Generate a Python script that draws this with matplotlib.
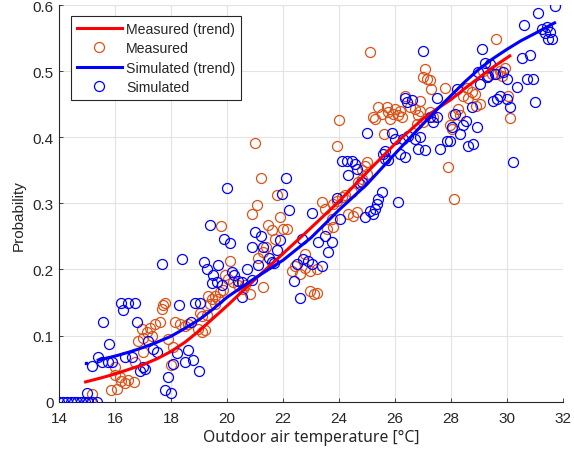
import numpy as np
import matplotlib
matplotlib.use("Agg")
import matplotlib.pyplot as plt

# trend curves
meas_trend_x = [14.95, 15.5, 16, 16.5, 17, 17.5, 18, 18.5, 19, 19.5, 20, 21, 22, 23,
                24, 25, 26, 27, 27.5, 28, 28.5, 29, 29.5, 30.1]
meas_trend_y = [0.030, 0.036, 0.042, 0.049, 0.056, 0.065, 0.076, 0.090, 0.107, 0.126,
                0.145, 0.185, 0.224, 0.263, 0.303, 0.347, 0.390, 0.428, 0.443, 0.457,
                0.474, 0.490, 0.506, 0.523]
sim_trend_x = [15.4, 16, 16.5, 17, 17.5, 18, 18.5, 19, 19.5, 20, 21, 22, 23, 24, 25,
               26, 27, 27.5, 28, 28.5, 29, 29.5, 30, 30.5, 31, 31.7]
sim_trend_y = [0.063, 0.069, 0.075, 0.082, 0.090, 0.099, 0.111, 0.124, 0.140, 0.158,
               0.187, 0.214, 0.248, 0.290, 0.329, 0.375, 0.420, 0.442, 0.463, 0.484,
               0.503, 0.519, 0.533, 0.546, 0.557, 0.573]

meas_x = [15.05, 15.15, 15.17, 15.85, 16.06, 16.0, 16.18, 16.2, 16.35, 16.45, 16.68,
          16.0, 16.71, 16.83, 16.98, 17.13, 17.25, 17.31, 17.43, 17.61, 17.01, 17.0,
          17.7, 17.8, 17.67, 17.9, 18.08, 18.0, 18.14, 18.32, 18.5, 18.62, 18.98, 19.1,
          19.2, 19.04, 19.1, 19.27, 19.33, 19.45, 19.57, 19.69, 19.39, 19.57, 19.75,
          19.87, 19.79, 19.93, 20.05, 20.22, 20.4, 20.58, 20.82, 20.1, 20.64, 20.9,
          21.08, 21.0, 21.2, 21.3, 21.12, 21.3, 21.4, 21.48, 21.6, 22.0, 22.13, 21.71,
          21.77, 21.89, 22.31, 22.43, 22.61, 22.79, 22.96, 22.79, 22.98, 23.1, 23.2,
          23.2, 23.38, 23.5, 23.8, 23.92, 24.1, 24.21, 23.56, 23.74, 23.8, 23.92, 24.0,
          24.33, 24.51, 24.63, 24.45, 24.69, 24.81, 24.81, 24.99, 24.93, 24.99, 25.11,
          25.23, 25.29, 25.4, 25.52, 25.7, 25.76, 25.82, 25.94, 26.0, 26.12, 26.18,
          26.24, 25.62, 26.36, 26.54, 26.71, 26.89, 26.89, 26.83, 26.77, 27.01, 27.01,
          27.07, 27.13, 27.25, 27.3, 27.25, 27.37, 27.79, 27.9, 27.96, 28.02, 28.08,
          28.1, 28.26, 28.32, 28.44, 28.56, 28.62, 28.74, 28.86, 28.9, 29.02, 29.15,
          29.27, 29.45, 29.6, 29.63, 29.75, 29.81, 29.93, 30.05, 30.1]
meas_y = [0.0, 0.0, 0.012, 0.017, 0.019, 0.04, 0.037, 0.032, 0.028, 0.033, 0.03,
          0.052, 0.06, 0.092, 0.11, 0.105, 0.112, 0.1, 0.117, 0.12, 0.097, 0.075,
          0.146, 0.149, 0.14, 0.095, 0.083, 0.055, 0.12, 0.117, 0.115, 0.118, 0.11, 0.105,
          0.108, 0.134, 0.13, 0.131, 0.16, 0.155, 0.16, 0.155, 0.148, 0.148, 0.166,
          0.169, 0.266, 0.191, 0.186, 0.181, 0.176, 0.171, 0.163, 0.213, 0.177, 0.284,
          0.298, 0.391, 0.339, 0.173, 0.217, 0.227, 0.234, 0.267, 0.26, 0.261, 0.261, 0.246,
          0.312, 0.279, 0.198, 0.206, 0.193, 0.203, 0.198, 0.224, 0.168, 0.163, 0.165,
          0.2, 0.302, 0.292, 0.299, 0.304, 0.309, 0.312, 0.261, 0.276, 0.264, 0.387, 0.426,
          0.284, 0.281, 0.287, 0.317, 0.332, 0.337, 0.35, 0.344, 0.357, 0.362, 0.529,
          0.43, 0.428, 0.446, 0.435, 0.445, 0.438, 0.428, 0.435, 0.443, 0.433, 0.44,
          0.43, 0.405, 0.463, 0.445, 0.443, 0.455, 0.44, 0.433, 0.42, 0.423, 0.491,
          0.503, 0.488, 0.486, 0.473, 0.438, 0.43, 0.474, 0.355, 0.418, 0.413, 0.433,
          0.306, 0.443, 0.433, 0.463, 0.474, 0.46, 0.468, 0.466, 0.447, 0.451, 0.5,
          0.491, 0.496, 0.548, 0.496, 0.5, 0.493, 0.504, 0.463, 0.429]

sim_x = [14.01, 14.15, 14.27, 14.42, 14.54, 14.65, 14.8, 14.93, 15.05, 15.19, 15.34,
         14.99, 15.19, 15.38, 15.52, 15.76, 15.9, 15.58, 15.79, 16.2, 16.47, 16.71, 16.3,
         16.36, 16.6, 16.77, 16.89, 17.01, 17.07, 17.19, 17.37, 17.49, 17.69, 17.79,
         17.99, 17.9, 18.08, 18.2, 18.29, 18.38, 18.5, 18.62, 18.8, 18.71, 18.86, 19.04,
         19.0, 19.18, 19.3, 19.69, 19.51, 19.63, 19.81, 19.45, 19.39, 19.9, 20.1, 19.99,
         20.17, 20.26, 20.38, 20.52, 20.7, 20.52, 20.88, 20.88, 21.0, 21.2, 21.09, 21.3,
         21.5, 21.6, 21.69, 21.8, 21.89, 21.98, 22.1, 22.2, 22.4, 22.61, 22.49, 22.72,
         22.9, 23.02, 22.67, 23.05, 23.26, 23.5, 23.74, 23.62, 23.4, 23.92, 24.04, 24.1,
         24.27, 24.45, 24.57, 24.63, 24.33, 24.81, 24.75, 24.93, 25.11, 25.23, 25.29,
         25.35, 25.4, 25.52, 24.99, 25.58, 25.64, 25.64, 25.76, 25.9, 26.0, 26.12, 26.18,
         26.36, 26.3, 26.48, 26.71, 26.89, 26.36, 26.6, 26.42, 26.83, 27.07, 27.01,
         27.25, 27.37, 27.49, 27.49, 27.6, 27.85, 27.96, 28.02, 28.44, 28.54, 28.92,
         28.14, 28.32, 28.2, 28.62, 28.8, 28.74, 28.98, 29.04, 29.12, 29.21, 29.39,
         29.27, 29.33, 29.57, 29.87, 29.99, 29.51, 29.63, 29.75, 29.99, 30.11, 30.23,
         30.35, 30.52, 30.82, 30.61, 30.7, 30.94, 31.0, 31.12, 31.24, 31.42, 31.36,
         31.54, 31.48, 31.6, 31.71]
sim_y = [0.0, 0.0, 0.0, 0.0, 0.0, 0.0, 0.0, 0.0, 0.0, 0.0, 0.0,
         0.013, 0.054, 0.067, 0.06, 0.06, 0.06, 0.12, 0.087, 0.15, 0.15, 0.15, 0.138,
         0.067, 0.067, 0.12, 0.047, 0.052, 0.049, 0.092, 0.08, 0.075, 0.208, 0.017,
         0.013, 0.037, 0.057, 0.073, 0.146, 0.216, 0.06, 0.078, 0.063, 0.12, 0.15, 0.15,
         0.046, 0.211, 0.201, 0.207, 0.191, 0.181, 0.177, 0.179, 0.267, 0.246, 0.24, 0.323,
         0.196, 0.191, 0.183, 0.181, 0.201, 0.158, 0.184, 0.234, 0.257, 0.25, 0.207, 0.234,
         0.217, 0.212, 0.21, 0.23, 0.244, 0.314, 0.339, 0.29, 0.182, 0.157, 0.208, 0.216,
         0.213, 0.208, 0.246, 0.285, 0.242, 0.25, 0.242, 0.227, 0.206, 0.308, 0.277, 0.364,
         0.364, 0.364, 0.36, 0.352, 0.343, 0.332, 0.329, 0.279, 0.289, 0.284, 0.291,
         0.299, 0.307, 0.317, 0.406, 0.375, 0.379, 0.367, 0.365, 0.406, 0.397, 0.302, 0.375,
         0.37, 0.397, 0.402, 0.397, 0.4, 0.46, 0.456, 0.453, 0.382, 0.38, 0.531,
         0.43, 0.423, 0.43, 0.459, 0.382, 0.395, 0.395, 0.415, 0.418, 0.425, 0.415,
         0.435, 0.405, 0.473, 0.387, 0.39, 0.445, 0.498, 0.481, 0.534, 0.513, 0.511,
         0.491, 0.493, 0.496, 0.498, 0.488, 0.455, 0.458, 0.463, 0.458, 0.446, 0.362,
         0.476, 0.52, 0.525, 0.57, 0.488, 0.488, 0.453, 0.588, 0.564, 0.566, 0.557,
         0.559, 0.549, 0.549, 0.598]

x_ticks = [14, 16, 18, 20, 22, 24, 26, 28, 30, 32]
y_ticks = [0, 0.1, 0.2, 0.3, 0.4, 0.5, 0.6]

ORANGE = "#D95319"
BLUE = "#0000FF"
DARK = "#262626"

plt.rcParams["font.family"] = ["Liberation Sans", "DejaVu Sans"]

fig = plt.figure(figsize=(5.74, 4.52), dpi=100)
ax = fig.add_axes([0.1028, 0.109, 0.878, 0.8777])

ax.plot(meas_trend_x, meas_trend_y, color="#FF0000", lw=2.2, zorder=4,
        label="Measured (trend)")
ax.plot(meas_x, meas_y, "o", mfc="none", mec=ORANGE, ms=7.2, mew=0.9, zorder=3,
        label="Measured")
ax.plot(sim_trend_x, sim_trend_y, color=BLUE, lw=2.2, zorder=4,
        label="Simulated (trend)")
ax.plot(sim_x, sim_y, "o", mfc="none", mec=BLUE, ms=7.2, mew=0.9, zorder=3,
        label="Simulated")
# small stray dot at the start of the simulated trend
ax.plot([14.95], [0.0585], "s", color=BLUE, ms=2, zorder=4)

ax.set_xlim(14, 32)
ax.set_ylim(0, 0.6)
ax.set_xticks(x_ticks)
ax.set_yticks(y_ticks)
ax.set_yticklabels([f"{v:g}" for v in y_ticks])
ax.grid(True, color="#e3e3e3", lw=0.8)
ax.set_axisbelow(True)

for s in ["top", "right"]:
    ax.spines[s].set_visible(False)
for s in ["left", "bottom"]:
    ax.spines[s].set_color(DARK)
    ax.spines[s].set_linewidth(0.8)
ax.tick_params(axis="both", direction="in", length=3, width=0.6, color=DARK,
               labelcolor=DARK, labelsize=11)
ax.tick_params(axis="x", pad=7)
ax.tick_params(axis="y", pad=4)

ax.set_xlabel("Outdoor air temperature [°C]", family=["Noto Sans", "DejaVu Sans"],
              fontsize=11.3, color=DARK, labelpad=2.5)
ax.set_ylabel("Probability", fontsize=11, color=DARK)
ax.yaxis.set_label_coords(-0.066, 0.473)

leg = ax.legend(loc="upper left", bbox_to_anchor=(0.0238, 0.9715), borderaxespad=0,
                fontsize=10.2, handlelength=3.2, handletextpad=0.3, labelspacing=0.38,
                borderpad=0.4, fancybox=False, framealpha=1, edgecolor=DARK)
leg.get_frame().set_linewidth(0.8)
for t in leg.get_texts():
    t.set_color(DARK)

fig.savefig("out.png", dpi=100)
